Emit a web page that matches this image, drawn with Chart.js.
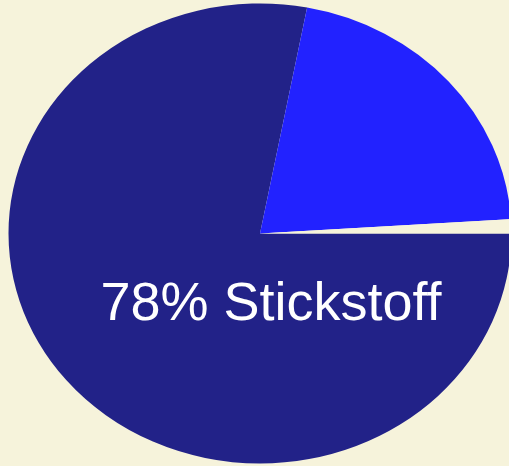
<!DOCTYPE html>
<html lang="de">
<head>
<meta charset="utf-8">
<title>Zusammensetzung der Luft</title>
<script src="https://cdn.jsdelivr.net/npm/chart.js@4/dist/chart.umd.min.js"></script>
<style>
  html, body { margin: 0; padding: 0; background: #F6F3DB; overflow: hidden; }
  .chart-box { position: relative; width: 509px; height: 466px; }
</style>
</head>
<body>
<div class="chart-box"><canvas id="airChart"></canvas></div>
<script>
// ---------- Daten ----------
const GAS_LABELS = ["Stickstoff", "Sauerstoff", "Andere"];
const GAS_SHARES = [78, 21, 1];
const GAS_COLORS = ["#222288", "#2222FF", "#F6F3DB"];
const CENTER_TEXT = "78% Stickstoff";

// Kreis horizontal strecken -> Ellipse
const STRETCH_X = 251.5 / 230;
const STRETCH_Y = 1;

const ellipsePlugin = {
  id: "ellipse",
  beforeDatasetsDraw(chart) {
    const meta = chart.getDatasetMeta(0);
    const arc = meta.data[0];
    const ctx = chart.ctx;
    ctx.save();
    ctx.translate(arc.x, arc.y);
    ctx.scale(STRETCH_X, STRETCH_Y);
    ctx.translate(-arc.x, -arc.y);
  },
  afterDatasetsDraw(chart) {
    chart.ctx.restore();
    // Beschriftung im großen Segment
    const ctx = chart.ctx;
    ctx.save();
    ctx.fillStyle = "#FFFFFF";
    ctx.font = "54px 'Liberation Sans', Arial, sans-serif";
    ctx.textAlign = "center";
    ctx.textBaseline = "alphabetic";
    ctx.fillText(CENTER_TEXT, 271, 320);
    ctx.restore();
  }
};

new Chart(document.getElementById("airChart"), {
  type: "pie",
  data: {
    labels: GAS_LABELS,
    datasets: [{
      data: GAS_SHARES,
      backgroundColor: GAS_COLORS,
      borderWidth: 0
    }]
  },
  options: {
    responsive: true,
    maintainAspectRatio: false,
    animation: false,
    rotation: 90,
    radius: 230,
    layout: { padding: { left: 11, right: 0, top: 1, bottom: 0 } },
    plugins: {
      legend: { display: false },
      tooltip: { enabled: false }
    }
  },
  plugins: [ellipsePlugin]
});
</script>
</body>
</html>
